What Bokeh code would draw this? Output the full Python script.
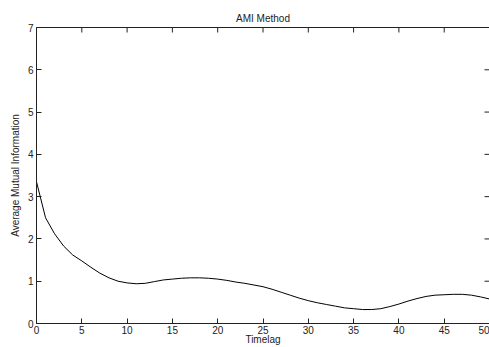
import math
from bokeh.plotting import figure
from bokeh.models import LinearAxis, FixedTicker, Title
from bokeh.embed import file_html
from bokeh.resources import INLINE

lags = list(range(0, 51))
ami = [3.35, 2.50, 2.12, 1.83, 1.62, 1.48, 1.33, 1.19, 1.08, 1.00,
       0.96, 0.94, 0.95, 0.99, 1.03, 1.05, 1.07, 1.08, 1.08, 1.07,
       1.05, 1.02, 0.98, 0.95, 0.91, 0.87, 0.81, 0.74, 0.67, 0.60,
       0.54, 0.49, 0.45, 0.41, 0.37, 0.35, 0.33, 0.33, 0.35, 0.40,
       0.46, 0.53, 0.59, 0.64, 0.67, 0.68, 0.69, 0.69, 0.67, 0.63,
       0.58]
x_ticks = [0, 5, 10, 15, 20, 25, 30, 35, 40, 45, 50]
y_ticks = [0, 1, 2, 3, 4, 5, 6, 7]

FONT = "Liberation Sans"
INK = "#222222"
X_MAX = x_ticks[-1]
Y_MAX = y_ticks[-1]

p = figure(width=489, height=347, x_range=(0, X_MAX), y_range=(0, Y_MAX),
           output_backend="svg", toolbar_location=None,
           min_border_left=36, min_border_right=0, min_border_top=27,
           min_border_bottom=23, x_axis_location=None, y_axis_location=None)
p.grid.visible = False
p.outline_line_color = None
p.background_fill_color = "white"
p.border_fill_color = "white"

def style(ax):
    ax.major_tick_in = 5
    ax.major_tick_out = 0
    ax.minor_tick_in = 0
    ax.minor_tick_out = 0
    ax.axis_line_color = INK
    ax.major_tick_line_color = INK
    ax.major_label_text_font = FONT
    ax.major_label_text_font_size = "10px"
    ax.major_label_text_color = INK
    ax.major_label_standoff = 3
    ax.axis_label_text_font = FONT
    ax.axis_label_text_font_size = "10px"
    ax.axis_label_text_font_style = "normal"
    ax.axis_label_text_color = INK

xb = LinearAxis(ticker=FixedTicker(ticks=x_ticks), axis_label="Timelag")
style(xb)
xb.major_label_standoff = 2
xb.axis_label_standoff = -3
yl = LinearAxis(ticker=FixedTicker(ticks=y_ticks), axis_label="Average Mutual Information")
style(yl)
yl.axis_label_standoff = 4
# top frame line only (no ticks, no labels)
xt = LinearAxis(ticker=FixedTicker(ticks=[]))
style(xt)
xt.major_label_standoff = 0
p.add_layout(xb, "below")
p.add_layout(yl, "left")
p.add_layout(xt, "above")

# mirrored inward ticks on top and right edges (markers clipped by the frame)
p.scatter(x=x_ticks, y=[Y_MAX] * len(x_ticks), marker="dash", size=10,
          angle=math.pi / 2, line_color=INK, line_width=1)
p.scatter(x=[X_MAX] * len(y_ticks), y=y_ticks, marker="dash", size=10,
          line_color=INK, line_width=1)

p.title = Title(text="AMI Method", align="center", text_font=FONT,
                text_font_size="10px", text_font_style="normal",
                text_color=INK, standoff=8)

p.line(lags, ami, line_color="black", line_width=1)

open("out.html", "w").write(file_html(p, INLINE))
